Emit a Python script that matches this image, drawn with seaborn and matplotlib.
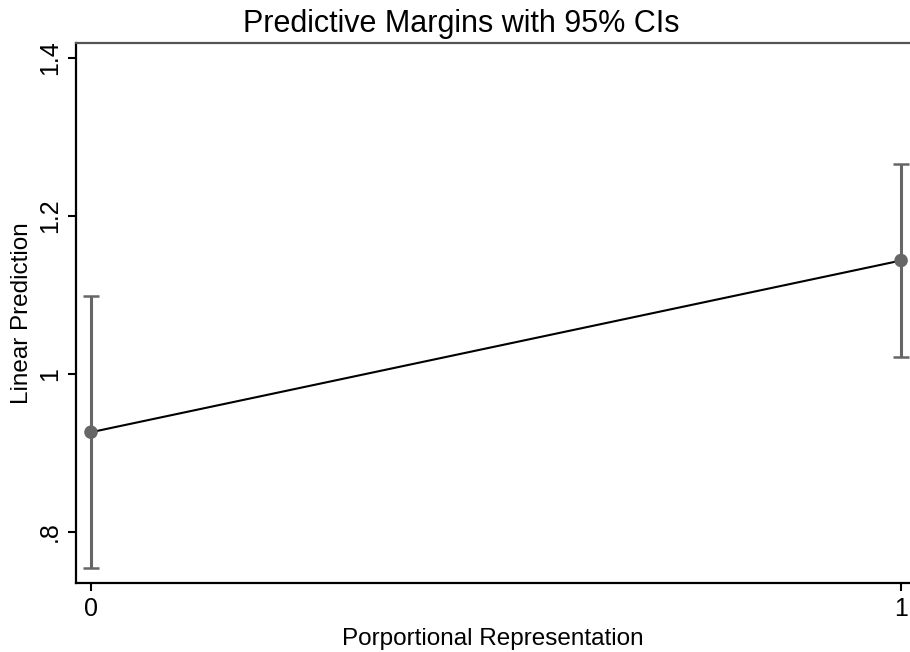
import matplotlib
matplotlib.use("Agg")
import matplotlib.pyplot as plt
import seaborn as sns
import pandas as pd

# margins
groups = [0, 1]
margin = [0.926, 1.1435]
ci_low = [0.754, 1.021]
ci_high = [1.098, 1.266]

ytick_vals = [0.8, 1.0, 1.2, 1.4]
ytick_labels = [".8", "1", "1.2", "1.4"]

sns.set_style("white")
plt.rcParams["font.family"] = ["Liberation Sans", "DejaVu Sans"]
plt.rcParams["text.color"] = "black"
plt.rcParams["axes.labelcolor"] = "black"
plt.rcParams["xtick.color"] = "black"
plt.rcParams["ytick.color"] = "black"

df = pd.DataFrame({"group": groups, "margin": margin,
                   "lo": ci_low, "hi": ci_high})

fig = plt.figure(figsize=(9.1, 6.52), dpi=100)
ax = fig.add_axes([76 / 910, 69 / 652, 834 / 910, 540 / 652])

sns.lineplot(data=df, x="group", y="margin", color="black", lw=1.5, ax=ax, zorder=2)
ax.errorbar(df["group"], df["margin"],
            yerr=[df["margin"] - df["lo"], df["hi"] - df["margin"]],
            fmt="none", ecolor="#666666", elinewidth=2.2, capsize=6, capthick=1.8, zorder=3)
sns.scatterplot(data=df, x="group", y="margin", color="#666666", s=95,
                edgecolor="none", ax=ax, zorder=4)

ax.set_xlim(-0.0185, 1.011)
ax.set_ylim(0.735, 1.419)
ax.set_xticks(groups)
ax.set_xticklabels([str(g) for g in groups], fontsize=18)
ax.set_yticks(ytick_vals)
ax.set_yticklabels(ytick_labels, fontsize=18, rotation=90, va="center")
ax.tick_params(axis="both", direction="out", length=6, width=1.5, color="black",
               left=True, bottom=True, pad=4)

for s in ["left", "bottom"]:
    ax.spines[s].set_color("black")
    ax.spines[s].set_linewidth(1.6)
ax.spines["top"].set_color("#555555")
ax.spines["top"].set_linewidth(1.6)
ax.spines["right"].set_visible(False)

ax.set_xlabel("Porportional Representation", fontsize=17.5, labelpad=5)
ax.set_ylabel("Linear Prediction", fontsize=17.5, labelpad=4)
ax.set_title("Predictive Margins with 95% CIs", fontsize=22, pad=8, x=0.4616)

fig.savefig("out.png", dpi=100)
